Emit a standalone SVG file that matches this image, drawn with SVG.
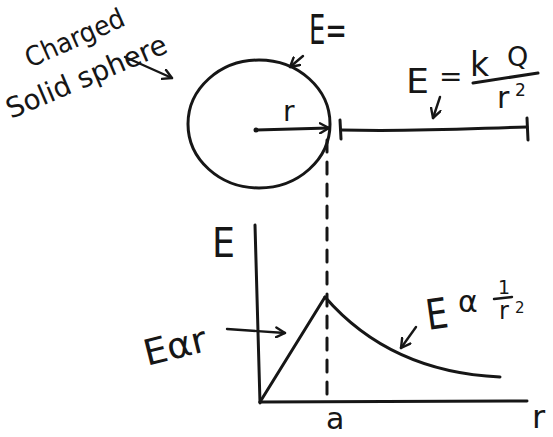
<svg xmlns="http://www.w3.org/2000/svg" width="553" height="437" viewBox="0 0 553 437">
<style>
.ink{fill:none;stroke:#161616;stroke-width:3;stroke-linecap:round;stroke-linejoin:round}
.thin{fill:none;stroke:#161616;stroke-width:2.4;stroke-linecap:round}
.t{font-family:"DejaVu Sans","Liberation Sans",sans-serif;fill:#161616}
</style>
<defs>
<marker id="ah" markerWidth="12" markerHeight="12" refX="10" refY="6" orient="auto" markerUnits="userSpaceOnUse">
<path d="M1,1 L10,6 L1,11" fill="none" stroke="#161616" stroke-width="2.4" stroke-linecap="round" stroke-linejoin="round"/>
</marker>
</defs>
<rect width="553" height="437" fill="#ffffff"/>

<g id="label-charged">
<text class="t" font-size="27" transform="translate(30,68) rotate(-24)" textLength="106" lengthAdjust="spacingAndGlyphs">Charged</text>
<text class="t" font-size="28" transform="translate(11,119) rotate(-23)" textLength="172" lengthAdjust="spacingAndGlyphs">Solid sphere</text>
</g>

<g id="sphere">
<ellipse class="ink" cx="259" cy="124" rx="71" ry="64"/>
<circle cx="256" cy="130" r="2.5" fill="#161616"/>
<text class="t" font-size="28" x="283" y="121">r</text>
</g>

<g id="label-E-eq">
<text class="t" font-size="40" x="309" y="44" textLength="38" lengthAdjust="spacingAndGlyphs">E=</text>
</g>

<g id="outside-region">
<path class="ink" d="M340,120 L341,139"/>
<path class="ink" d="M341,130 C420,132 480,128 527,127"/>
<path class="ink" d="M527,118 L528,140"/>
</g>

<g id="label-kQ">
<text class="t" font-size="34" x="406" y="93" textLength="23" lengthAdjust="spacingAndGlyphs">E</text>
<text class="t" font-size="28" x="439" y="86">=</text>
<text class="t" font-size="33" x="470" y="76">k</text>
<text class="t" font-size="27" x="507" y="66">Q</text>
<path class="ink" d="M473,83 L538,73"/>
<text class="t" font-size="30" x="497" y="108">r</text>
<text class="t" font-size="17" x="515" y="96">2</text>
</g>

<g id="graph">
<path class="ink" d="M255,225 L260,403"/>
<path class="ink" d="M260,402 L527,401"/>
<path class="ink" d="M260,402 L325,297"/>
<path class="ink" d="M325,297 Q390,372 500,377"/>
<text class="t" font-size="40" x="212" y="257" textLength="23" lengthAdjust="spacingAndGlyphs">E</text>
<text class="t" font-size="30" x="326" y="429">a</text>
<text class="t" font-size="32" x="532" y="428">r</text>
</g>

<g id="label-E-prop-r">
<text class="t" font-size="36" transform="translate(147,366) rotate(-14)" textLength="64" lengthAdjust="spacingAndGlyphs">Eαr</text>
</g>

<g id="label-E-prop-inv">
<text class="t" font-size="42" transform="translate(428,330) rotate(-8)" textLength="22" lengthAdjust="spacingAndGlyphs">E</text>
<text class="t" font-size="30" x="458" y="312">α</text>
<text class="t" font-size="19" x="498" y="294">1</text>
<path class="thin" d="M494,299 L512,297"/>
<text class="t" font-size="24" x="499" y="319">r</text>
<text class="t" font-size="15" x="515" y="313">2</text>
</g>

<g id="connectors">
<path class="ink" d="M327,140 L327,400" stroke-dasharray="12 10" stroke-width="2"/>
<path class="ink" d="M256,130 L329,128" marker-end="url(#ah)"/>
<path class="thin" d="M303,56 L290,67" marker-end="url(#ah)"/>
<path class="thin" d="M125,57 L172,78" marker-end="url(#ah)"/>
<path class="thin" d="M440,97 L433,118" marker-end="url(#ah)"/>
<path class="thin" d="M227,329 L285,333" marker-end="url(#ah)"/>
<path class="thin" d="M416,327 L401,348" marker-end="url(#ah)"/>
</g>
</svg>
